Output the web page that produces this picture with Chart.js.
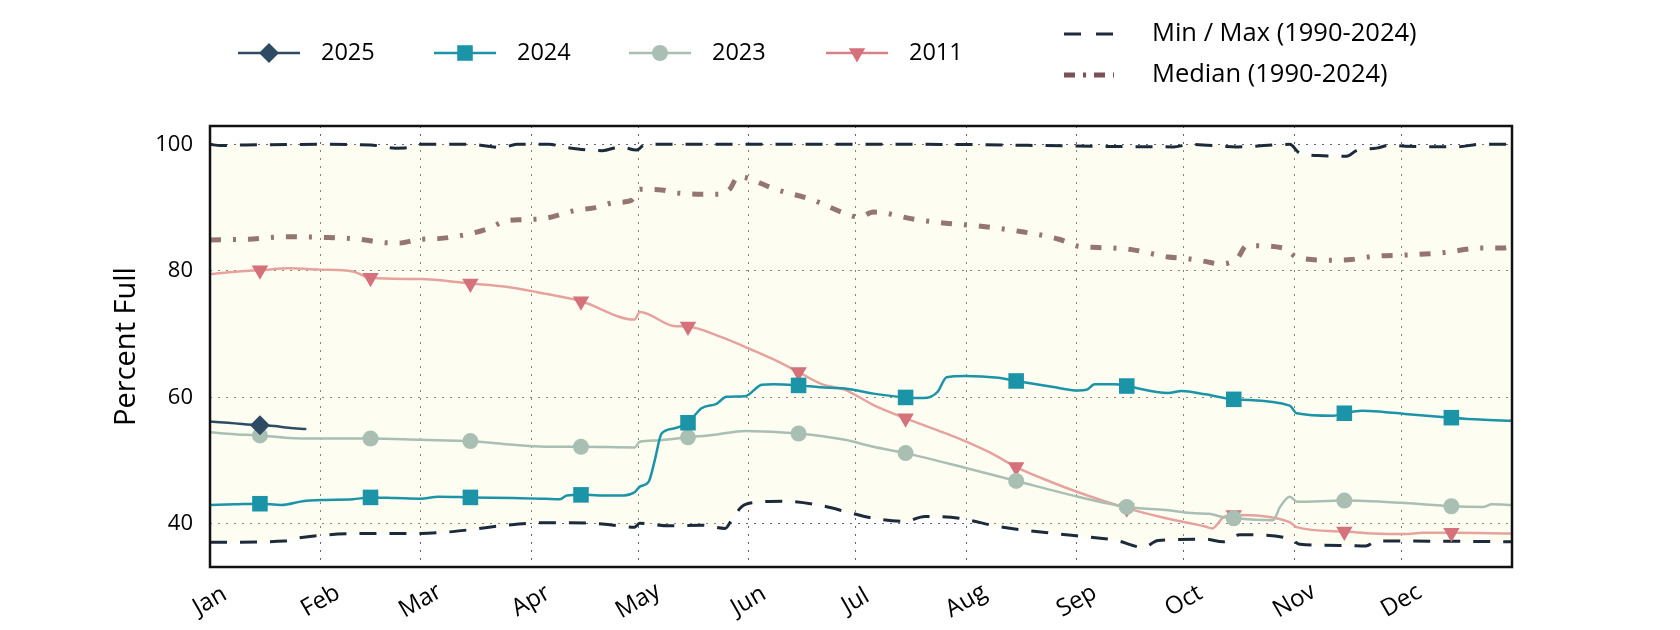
<!DOCTYPE html>
<html>
<head>
<meta charset="utf-8">
<script src="https://cdn.jsdelivr.net/npm/chart.js@4/dist/chart.umd.min.js"></script>
<style>
  html, body { margin: 0; padding: 0; background: #ffffff; }
  #wrap { width: 1680px; height: 630px; }
</style>
</head>
<body>
<div id="wrap"><canvas id="c" width="1680" height="630"></canvas></div>
<script>
// ---- Data (day of year, percent full) ----
const monthNames = ['Jan','Feb','Mar','Apr','May','Jun','Jul','Aug','Sep','Oct','Nov','Dec'];
const monthStarts = [0,31,59,90,120,151,181,212,243,273,304,334];
const markerDays = [14,45,73,104,134,165,195,226,257,287,318,348];
const yTicks = [40,60,80,100];

const s2025 = [[0,56.2],[5,56.0],[9,55.8],[14,55.6],[18,55.5],[22,55.2],[27,55.0]];

const s2024 = [[0,43.0],[7,43.1],[14,43.2],[20,43.0],[26,43.6],[32,43.8],[40,43.9],[45,44.2],[52,44.1],[59,44.0],[64,44.3],[73,44.2],[85,44.1],[94,44.0],[98,43.9],[100,44.5],[104,44.6],[112,44.5],[116,44.5],[119,45.0],[120.5,45.9],[123,46.7],[124.7,50.1],[126.6,54.3],[130,55.1],[134,56.0],[137.8,58.3],[142,59.0],[144.8,60.1],[150,60.2],[154.7,62.0],[158,62.1],[165,61.9],[171,61.6],[178,61.4],[186,60.6],[195,60.0],[200,59.9],[202,60.1],[204,60.9],[206.5,63.2],[211.6,63.4],[221,63.1],[226,62.6],[236,61.7],[243.4,61.1],[245.7,61.2],[248,62.1],[253.7,62.1],[257,61.8],[268.6,60.7],[272.4,61.0],[279,60.5],[287,59.7],[302.7,58.7],[304.6,57.5],[315,57.1],[318,57.5],[323,57.9],[329,57.7],[335,57.4],[348,56.8],[356,56.5],[365,56.3]];

const s2023 = [[0,54.5],[7,54.2],[14,54.0],[22,53.6],[31,53.5],[45,53.5],[59,53.3],[73,53.1],[83,52.6],[94,52.2],[104,52.2],[119,52.1],[120.5,53.0],[125,53.2],[134,53.7],[141.6,54.1],[150,54.7],[165,54.3],[178,53.3],[186,52.2],[195,51.2],[211.6,48.9],[226,46.8],[243.4,44.3],[257,42.7],[268,42.2],[276,41.7],[280,41.6],[284,41.1],[287,40.9],[298,40.6],[300,42.7],[302.7,44.3],[304.8,43.5],[318,43.7],[335,43.3],[348,42.8],[357,42.7],[359.3,43.1],[365,43.0]];

const s2011 = [[0,79.5],[10,80.0],[14,80.1],[22,80.4],[31,80.2],[40,79.9],[45,78.9],[59,78.7],[73,78.0],[83,77.5],[92,76.6],[104,75.2],[119,72.3],[120.5,73.5],[130,71.3],[134,71.2],[143,69.6],[152,67.5],[158,66.0],[165,64.0],[171.5,62.1],[178,61.2],[186,58.8],[195,56.7],[204,54.8],[210,53.5],[219,51.2],[226,49.0],[236,46.6],[243,45.1],[257,42.5],[268,40.9],[279,39.6],[281,39.3],[284,41.0],[287,41.4],[302.7,40.3],[304.6,39.5],[318,38.8],[326,38.5],[335,38.4],[340,38.6],[348,38.6],[365,38.5]];

const sMedian = [[0,84.9],[10,85.0],[22,85.4],[31,85.3],[42,85.0],[48,84.5],[53,84.4],[59,85.0],[64,85.1],[73,85.9],[78,86.7],[83,87.9],[88,88.1],[94,88.3],[102,89.5],[108,90.0],[113.5,90.8],[118,91.1],[120.5,92.9],[126.6,92.8],[131,92.3],[142.5,92.1],[145.8,93.0],[148,94.9],[151,94.6],[158,93.0],[169,91.2],[178,89.1],[182,88.5],[186,89.3],[198,88.1],[207,87.5],[213.5,87.2],[227.5,86.2],[238,85.0],[243.4,83.9],[249,83.7],[258,83.4],[268.6,82.2],[273,82.0],[279,81.5],[283,81.1],[288,82.0],[290.6,84.0],[301,83.6],[304.6,82.2],[314,81.7],[320,81.8],[326,82.3],[335,82.5],[346,82.9],[356,83.6],[362,83.6],[365,83.8]];

const sMax = [[0,100],[3,99.8],[10,99.9],[31,100],[45,99.9],[52,99.4],[56,99.5],[59,100],[73,100],[82,99.5],[86,100],[95,100],[100,99.5],[110,99.0],[115,99.6],[119.6,99.1],[122,100],[200,100],[270,99.6],[275,100],[288,99.6],[302.7,100],[305.5,98.6],[312,98.2],[318.6,98.1],[321.4,99.0],[327,99.4],[331,99.9],[335,99.7],[349.5,99.6],[356,100],[365,100]];

const sMin = [[0,37.1],[21,37.3],[24,37.7],[31,38.2],[45,38.5],[59,38.5],[66,38.7],[73,39.1],[83,39.8],[94,40.2],[100,40.2],[110,40.0],[119,39.5],[120.5,40.1],[128.5,39.7],[137.8,39.8],[144.4,39.3],[146.2,40.6],[149,42.7],[153,43.4],[161,43.6],[170.5,43.0],[180,41.7],[186,40.9],[194.8,40.4],[200.4,41.2],[210,40.9],[221,39.6],[240,38.3],[254,37.4],[261.6,36.3],[265.8,37.4],[279,37.6],[284,37.2],[288.7,38.3],[302.7,37.7],[305.5,36.8],[318.6,36.6],[324,36.5],[327,37.3],[331,37.3],[365,37.2]];

// ---- Styles ----
const FONT = '"Open Sans", Lato, sans-serif';
const markerR = (r) => (ctx) => (ctx.raw && markerDays.includes(ctx.raw[0])) ? r : 0;
const R = { '2025': 10, '2024': 11, '2023': 8, '2011': 9.5 };

const datasets = [
  { label: '2025', data: s2025, borderColor: '#2f4b63', backgroundColor: '#2f4b63', borderWidth: 2.5,
    pointStyle: 'rectRot', pointRadius: markerR(R['2025']), pointBackgroundColor: '#2f4b63', pointBorderColor: '#2f4b63', pointBorderWidth: 0 },
  { label: '2024', data: s2024, borderColor: '#1b94a7', backgroundColor: '#1b94a7', borderWidth: 2.5,
    pointStyle: 'rect', pointRadius: markerR(R['2024']), pointBackgroundColor: '#1b94a7', pointBorderColor: '#1b94a7', pointBorderWidth: 0 },
  { label: '2023', data: s2023, borderColor: '#aabfb4', backgroundColor: '#aabfb4', borderWidth: 2.5,
    pointStyle: 'circle', pointRadius: markerR(R['2023']), pointBackgroundColor: '#aabfb4', pointBorderColor: '#aabfb4', pointBorderWidth: 0 },
  { label: '2011', data: s2011, borderColor: '#e6a39e', backgroundColor: '#d4717a', borderWidth: 2.5,
    pointStyle: 'triangle', pointRotation: 180, pointRadius: markerR(R['2011']), pointBackgroundColor: '#d4717a', pointBorderColor: '#d4717a', pointBorderWidth: 0 },
  { label: 'Max', data: sMax, borderColor: '#1c2a3c', borderWidth: 3, borderDash: [17, 13], pointRadius: 0, fill: false },
  { label: 'Min', data: sMin, borderColor: '#1c2a3c', borderWidth: 3, borderDash: [17, 13], pointRadius: 0,
    fill: '-1', backgroundColor: 'rgba(244,244,196,0.22)' },
  { label: 'Median', data: sMedian, borderColor: '#7a5159', borderWidth: 5, borderDash: [11, 12, 3, 12], pointRadius: 0, fill: false }
];
datasets.forEach(d => { d.pointHoverRadius = d.pointRadius; d.cubicInterpolationMode = 'monotone'; });

// ---- Custom plugin: frame, x labels, legend ----
const deco = {
  id: 'deco',
  afterDatasetsDraw(chart) {
    const { ctx, chartArea: a } = chart;
    ctx.save();
    ctx.strokeStyle = '#111';
    ctx.lineWidth = 2.5;
    ctx.strokeRect(a.left, a.top, a.right - a.left, a.bottom - a.top);
    ctx.restore();
  },
  afterDraw(chart) {
    const { ctx } = chart;
    const xs = chart.scales.x;
    ctx.save();
    ctx.fillStyle = '#000';
    ctx.font = '24px ' + FONT;
    ctx.textAlign = 'center';
    ctx.textBaseline = 'middle';
    monthStarts.forEach((d, i) => {
      const px = xs.getPixelForValue(d);
      ctx.save();
      ctx.translate(px, 601);
      ctx.rotate(-Math.PI / 6);
      ctx.fillText(monthNames[i], 0, 0);
      ctx.restore();
    });
    // Legend: years row
    ctx.font = '23.5px ' + FONT;
    const yearItems = [0, 1, 2, 3];
    const startX = [238, 434, 629, 826];
    const lineCol = ['#2f4b63', '#1b94a7', '#aabfb4', '#d98087'];
    const rowY = 53;
    yearItems.forEach((di, k) => {
      const ds = chart.data.datasets[di];
      const x0 = startX[k];
      ctx.save();
      ctx.strokeStyle = lineCol[k];
      ctx.lineWidth = 2.5;
      ctx.beginPath(); ctx.moveTo(x0, rowY); ctx.lineTo(x0 + 62, rowY); ctx.stroke();
      ctx.fillStyle = ds.pointBackgroundColor;
      ctx.strokeStyle = ds.pointBackgroundColor;
      Chart.helpers.drawPoint(ctx, { pointStyle: ds.pointStyle, radius: R[ds.label], rotation: ds.pointRotation || 0, borderWidth: 0 }, x0 + 31, rowY);
      ctx.restore();
      ctx.fillStyle = '#000';
      ctx.textAlign = 'left';
      ctx.fillText(ds.label, x0 + 83, rowY);
    });
    // Legend: min/max and median
    const lx = 1064;
    ctx.save();
    ctx.strokeStyle = '#1c2a3c'; ctx.lineWidth = 3; ctx.setLineDash([17, 15]);
    ctx.beginPath(); ctx.moveTo(lx, 34); ctx.lineTo(lx + 50, 34); ctx.stroke();
    ctx.strokeStyle = '#7a5159'; ctx.lineWidth = 5; ctx.setLineDash([11, 8, 3, 8]);
    ctx.beginPath(); ctx.moveTo(lx, 75); ctx.lineTo(lx + 50, 75); ctx.stroke();
    ctx.restore();
    ctx.font = '25.5px ' + FONT;
    ctx.fillStyle = '#000';
    ctx.textAlign = 'left';
    ctx.fillText('Min / Max (1990-2024)', 1152, 34);
    ctx.fillText('Median (1990-2024)', 1152, 75);
    ctx.restore();
  }
};

new Chart(document.getElementById('c'), {
  type: 'line',
  data: { datasets },
  plugins: [deco],
  options: {
    responsive: false,
    animation: false,
    events: [],
    layout: { padding: { left: 105, top: 126, right: 168, bottom: 0 } },
    plugins: { legend: { display: false }, tooltip: { enabled: false } },
    elements: { line: { tension: 0 } },
    scales: {
      x: {
        type: 'linear', min: 0, max: 365,
        afterBuildTicks: (s) => { s.ticks = monthStarts.map(v => ({ value: v })); },
        afterFit: (s) => { s.height = 63; },
        ticks: { display: false },
        grid: { color: '#666', lineWidth: 1, drawTicks: false },
        border: { display: false, dash: [2, 6] }
      },
      y: {
        min: 33.2, max: 102.9,
        afterBuildTicks: (s) => { s.ticks = yTicks.map(v => ({ value: v })); },
        afterFit: (s) => { s.width = 105; },
        ticks: { color: '#000', font: { family: FONT, size: 22 }, padding: 17 },
        grid: { color: '#666', lineWidth: 1, drawTicks: false },
        border: { display: false, dash: [2, 6] },
        title: { display: true, text: 'Percent Full', color: '#000', font: { family: FONT, size: 29 }, padding: { top: 4, bottom: 0 } }
      }
    }
  }
});
</script>
</body>
</html>
